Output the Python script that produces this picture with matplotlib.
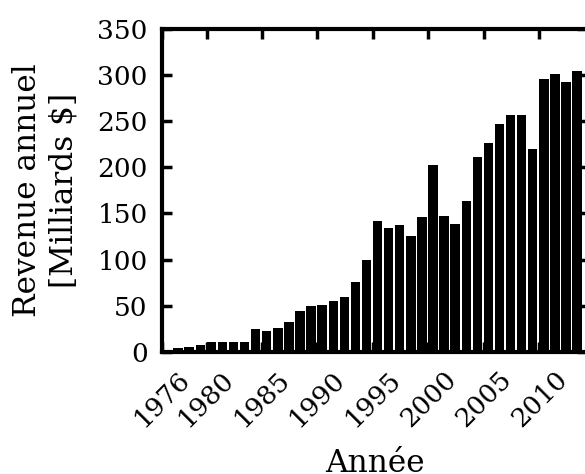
import matplotlib
matplotlib.use("Agg")
import matplotlib.pyplot as plt

plt.rcParams["font.family"] = ["DejaVu Serif"]
plt.rcParams["font.size"] = 19

# Annual revenue, billions of dollars
years = list(range(1976, 2014))
revenue = [1.5, 3.9, 5, 7, 11, 10.4, 10.4, 11, 24.8, 23,
           26, 32, 44.7, 50, 50.8, 55.2, 59.5, 75.8, 100, 141.6,
           134.4, 137.3, 126, 146, 202, 147.7, 138.7, 163.7, 211.7, 226.2,
           246.8, 256.2, 256.2, 220, 296, 301.4, 292.4, 304]

xticks = [1976, 1980, 1985, 1990, 1995, 2000, 2005, 2010]
yticks = [0, 50, 100, 150, 200, 250, 300, 350]

fig = plt.figure(figsize=(5.85, 4.74), dpi=100)
ax = fig.add_axes([0.2774, 0.2576, 0.7266, 0.6814])

ax.bar(years, revenue, width=0.85, align="edge", color="black")

ax.set_xlim(1976, 2014.35)
ax.set_ylim(0, 350)
ax.set_xticks(xticks)
ax.set_xticklabels([str(t) for t in xticks], rotation=45)
ax.set_yticks(yticks)

for s in ax.spines.values():
    s.set_linewidth(3)

ax.tick_params(direction="in", length=7.5, width=2.5, top=True, right=True,
               pad=10.5)

ax.set_xlabel("Année", fontsize=22.5, labelpad=12)
ax.set_ylabel("Revenue annuel\n[Milliards $]", fontsize=22.5, labelpad=13)

fig.savefig("out.png", dpi=100)
